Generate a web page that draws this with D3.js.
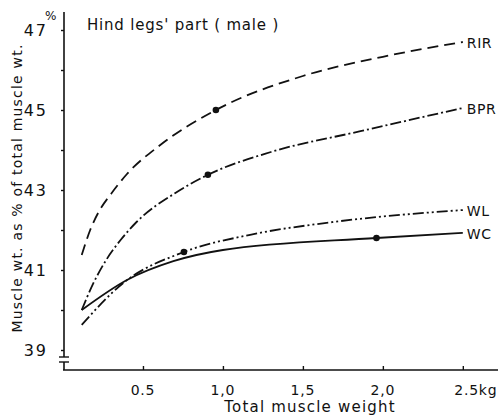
<!DOCTYPE html>
<html lang="en">
<head>
  <meta charset="UTF-8">
  <title>Hind legs' part (male)</title>
  <script src="https://d3js.org/d3.v7.min.js"></script>
  <style>
    body { margin: 0; background: #fff; }
    text { font-family: "DejaVu Sans", sans-serif; fill: #111; }
    .curve { fill: none; stroke: #111; stroke-width: 1.8; }
  </style>
</head>
<body>
  <svg width="498" height="419"></svg>

  <script>
    // values (kg, % of total muscle wt.)
    const rirX = [0.117, 0.17, 0.23, 0.3, 0.4, 0.6, 0.956, 1.5, 2.0, 2.5];
    const rirY = [41.375, 42.0, 42.5, 42.9, 43.4, 44.1, 45.0, 45.85, 46.33, 46.7];
    const bprX = [0.117, 0.19, 0.27, 0.36, 0.46, 0.7, 0.906, 1.3, 1.86, 2.5];
    const bprY = [40.0, 40.67, 41.25, 41.75, 42.2, 42.92, 43.38, 43.95, 44.47, 45.05];
    const wlX = [0.117, 0.375, 0.756, 1.17, 1.69, 2.5];
    const wlY = [39.63, 40.67, 41.45, 41.88, 42.2, 42.5];
    const wcX = [0.117, 0.4, 0.69, 1.0, 1.96, 2.5];
    const wcY = [40.0, 40.75, 41.22, 41.5, 41.8, 41.93];

    const seriesNames = ["RIR", "BPR", "WL", "WC"];
    const markedX = [0.956, 0.906, 0.756, 1.96];
    const markedY = [45.0, 43.38, 41.45, 41.8];

    const xTicks = [0.5, 1.0, 1.5, 2.0, 2.5];
    const xTickLabels = ["0.5", "1,0", "1,5", "2,0", "2.5kg"];
    const yTicks = [39, 40, 41, 42, 43, 44, 45, 46, 47];

    const svg = d3.select("svg");

    const x = d3.scaleLinear().domain([0, 2.72]).range([63, 498]);
    const y = d3.scaleLinear().domain([39, 47]).range([350, 30]);

    const series = [
      {name: "RIR", xs: rirX, ys: rirY, dash: "11,6"},
      {name: "BPR", xs: bprX, ys: bprY, dash: "11,3,2,3"},
      {name: "WL", xs: wlX, ys: wlY, dash: "11,3,2,3,2,3"},
      {name: "WC", xs: wcX, ys: wcY, dash: null}
    ];

    const line = d3.line()
      .x(d => x(d[0]))
      .y(d => y(d[1]))
      .curve(d3.curveMonotoneX);

    // x axis, ticks pointing up
    const axisX = svg.append("g")
      .attr("transform", "translate(0,370)")
      .call(d3.axisTop(x).tickValues(xTicks).tickSize(4).tickFormat(""));
    axisX.select(".domain").remove();
    axisX.selectAll("line").attr("stroke", "#111").attr("stroke-width", 1.4);
    svg.append("line")
      .attr("x1", 63).attr("x2", 498)
      .attr("y1", 370).attr("y2", 370)
      .attr("stroke", "#111").attr("stroke-width", 1.6);

    svg.selectAll(".xlab")
      .data(xTicks)
      .join("text")
      .attr("class", "xlab")
      .attr("x", (d, i) => x(d) + (i === 4 ? 13 : 0))
      .attr("y", 395)
      .attr("text-anchor", "middle")
      .attr("font-size", 14)
      .attr("letter-spacing", 0.8)
      .text((d, i) => xTickLabels[i]);

    // y axis with a break above 39
    const axisY = svg.append("g")
      .attr("transform", "translate(64,0)")
      .call(d3.axisLeft(y).tickValues(yTicks).tickSize(3).tickFormat(""));
    axisY.select(".domain").remove();
    axisY.selectAll("line").attr("stroke", "#111").attr("stroke-width", 1.4);

    svg.append("line")
      .attr("x1", 64).attr("x2", 64)
      .attr("y1", 12).attr("y2", 357)
      .attr("stroke", "#111").attr("stroke-width", 1.6);
    svg.append("line")
      .attr("x1", 64).attr("x2", 64)
      .attr("y1", 362).attr("y2", 370)
      .attr("stroke", "#111").attr("stroke-width", 1.6);
    [357, 362].forEach(v => {
      svg.append("line")
        .attr("x1", 59).attr("x2", 69)
        .attr("y1", v).attr("y2", v)
        .attr("stroke", "#111").attr("stroke-width", 1.4);
    });

    svg.selectAll(".ylab")
      .data(yTicks.filter(d => d % 2 === 1))
      .join("text")
      .attr("class", "ylab")
      .attr("x", 48)
      .attr("y", d => y(d) + 6)
      .attr("text-anchor", "end")
      .attr("font-size", 16)
      .attr("letter-spacing", 2)
      .text(d => d);

    svg.append("text")
      .attr("x", 45).attr("y", 20)
      .attr("font-size", 12)
      .text("%");

    svg.append("text")
      .attr("transform", "translate(22,188) rotate(-90)")
      .attr("text-anchor", "middle")
      .attr("font-size", 14)
      .attr("letter-spacing", 1.2)
      .text("Muscle wt. as % of total muscle wt.");

    svg.append("text")
      .attr("x", 310).attr("y", 412)
      .attr("text-anchor", "middle")
      .attr("font-size", 15)
      .attr("letter-spacing", 1.2)
      .text("Total muscle weight");

    svg.append("text")
      .attr("x", 87).attr("y", 30)
      .attr("font-size", 15)
      .attr("letter-spacing", 0.8)
      .text("Hind legs' part ( male )");

    // curves
    svg.selectAll(".curve")
      .data(series)
      .join("path")
      .attr("class", "curve")
      .attr("stroke-dasharray", d => d.dash)
      .attr("d", d => line(d.xs.map((v, i) => [v, d.ys[i]])));

    svg.selectAll(".mark")
      .data(seriesNames)
      .join("circle")
      .attr("class", "mark")
      .attr("cx", (d, i) => x(markedX[i]))
      .attr("cy", (d, i) => y(markedY[i]))
      .attr("r", 3.3)
      .attr("fill", "#111");

    svg.selectAll(".slab")
      .data(series)
      .join("text")
      .attr("class", "slab")
      .attr("x", d => x(d.xs[d.xs.length - 1]) + 4)
      .attr("y", d => y(d.ys[d.ys.length - 1]) + 6)
      .attr("font-size", 14)
      .attr("letter-spacing", 0.6)
      .text(d => d.name);
  </script>
</body>
</html>
